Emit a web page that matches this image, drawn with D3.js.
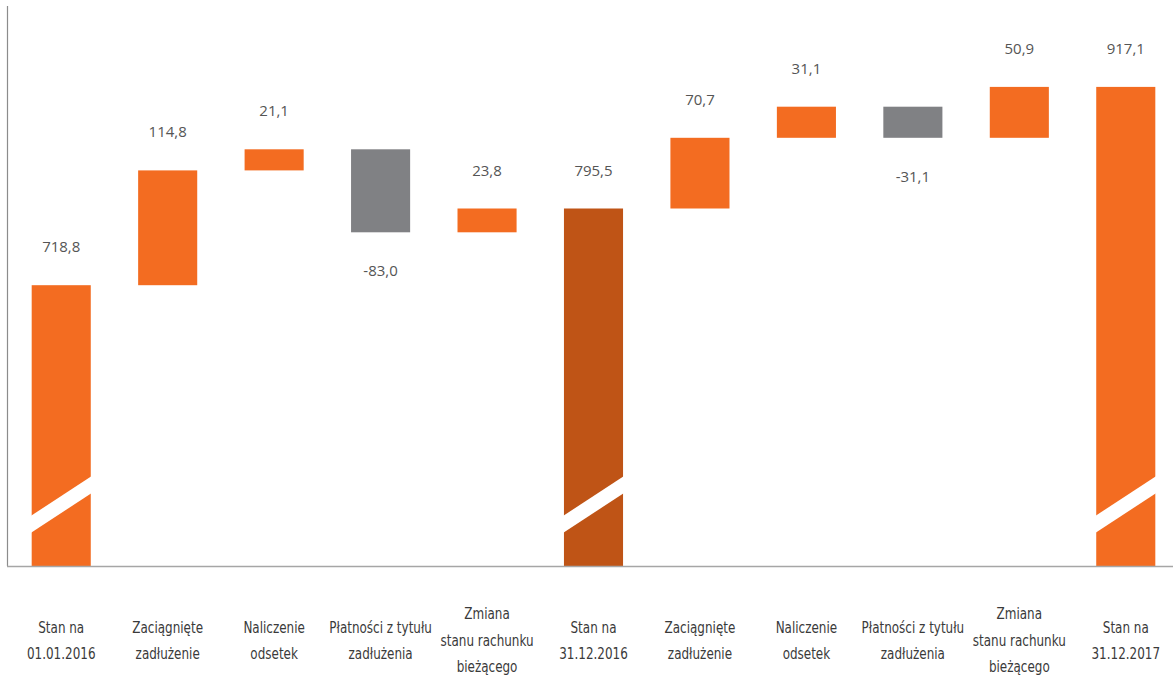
<!DOCTYPE html>
<html>
<head>
<meta charset="utf-8">
<script src="https://cdn.jsdelivr.net/npm/d3@7"></script>
<style>
  html, body { margin: 0; padding: 0; background: #fff; }
</style>
</head>
<body>
<div class="chart"></div>
<script>
// dane wykresu kaskadowego (mln zł)
const categories = [
  ['Stan na', '01.01.2016'],
  ['Zaciągnięte', 'zadłużenie'],
  ['Naliczenie', 'odsetek'],
  ['Płatności z tytułu', 'zadłużenia'],
  ['Zmiana', 'stanu rachunku', 'bieżącego'],
  ['Stan na', '31.12.2016'],
  ['Zaciągnięte', 'zadłużenie'],
  ['Naliczenie', 'odsetek'],
  ['Płatności z tytułu', 'zadłużenia'],
  ['Zmiana', 'stanu rachunku', 'bieżącego'],
  ['Stan na', '31.12.2017']
];
const values = [718.8, 114.8, 21.1, -83.0, 23.8, 795.5, 70.7, 31.1, -31.1, 50.9, 917.1];
const kinds  = ['total', 'delta', 'delta', 'delta', 'delta', 'mid', 'delta', 'delta', 'delta', 'delta', 'total'];
const valueLabels = ['718,8', '114,8', '21,1', '-83,0', '23,8', '795,5', '70,7', '31,1', '-31,1', '50,9', '917,1'];

// oś przerwana - dolna granica skali
const yMin = 438, yMax = 998;

const W = 1173, H = 677;
const baseY = 566;

const svg = d3.select('.chart').append('svg')
  .attr('width', W)
  .attr('height', H);

const x = d3.scaleBand()
  .domain(d3.range(values.length))
  .range([8, 1179])
  .paddingInner(0.445)
  .paddingOuter(0.2225);

const y = d3.scaleLinear()
  .domain([yMin, yMax])
  .range([baseY, 6]);

// liczenie początku i końca każdego słupka
let run = 0;
const bars = values.map((v, i) => {
  let lo, hi;
  if (kinds[i] !== 'delta') {
    lo = yMin; hi = v; run = v;
  } else {
    const start = run;
    run = run + v;
    lo = Math.min(start, run); hi = Math.max(start, run);
  }
  return {i, v, lo, hi, kind: kinds[i]};
});

const color = d => d.kind === 'mid' ? '#bf5416' : (d.v < 0 ? '#808184' : '#f36c21');

// osie
svg.append('line')
  .attr('x1', 7.5).attr('x2', 7.5)
  .attr('y1', y(yMax)).attr('y2', baseY)
  .attr('stroke', '#8c8c8c').attr('stroke-width', 1.2);

svg.selectAll('rect.bar')
  .data(bars)
  .enter().append('rect')
  .attr('class', 'bar')
  .attr('x', d => x(d.i))
  .attr('width', x.bandwidth())
  .attr('y', d => y(d.hi))
  .attr('height', d => y(d.lo) - y(d.hi))
  .attr('fill', color);

// biały pasek przerwy osi na słupkach sumarycznych
svg.selectAll('polygon.brk')
  .data(bars.filter(d => d.kind !== 'delta'))
  .enter().append('polygon')
  .attr('class', 'brk')
  .attr('fill', '#fff')
  .attr('points', d => {
    const x0 = x(d.i) - 1, x1 = x(d.i) + x.bandwidth() + 1;
    return [[x0, baseY - 50], [x1, baseY - 90], [x1, baseY - 73], [x0, baseY - 33]]
      .map(p => p.join(',')).join(' ');
  });

svg.append('line')
  .attr('x1', 7).attr('x2', W)
  .attr('y1', baseY + 0.5).attr('y2', baseY + 0.5)
  .attr('stroke', '#a6a6a6').attr('stroke-width', 1.5);

// etykiety wartości
svg.selectAll('text.val')
  .data(bars)
  .enter().append('text')
  .attr('class', 'val')
  .text(d => valueLabels[d.i])
  .attr('x', d => x(d.i) + x.bandwidth() / 2)
  .attr('y', d => d.v < 0 ? y(d.lo) + 38 : y(d.hi) - 39)
  .attr('text-anchor', 'middle')
  .attr('dominant-baseline', 'central')
  .attr('font-family', "'Open Sans', 'Noto Sans', sans-serif")
  .attr('font-size', 15)
  .attr('fill', '#555');

// etykiety kategorii (zwężone, jak w oryginale)
const cat = svg.selectAll('text.cat')
  .data(categories)
  .enter().append('text')
  .attr('class', 'cat')
  .attr('transform', (d, i) => `translate(${x(i) + x.bandwidth() / 2},0) scale(0.86,1)`)
  .attr('text-anchor', 'middle')
  .attr('font-family', "'Liberation Sans Narrow', 'DejaVu Sans Condensed', sans-serif")
  .attr('font-size', 15.5)
  .attr('fill', '#3a3a3a');

cat.each(function(lines) {
  const t = d3.select(this);
  const lh = 26.5;
  const top = 640.5 - (lines.length - 1) * lh / 2;
  lines.forEach((ln, k) => {
    t.append('tspan')
      .attr('x', 0)
      .attr('y', top + k * lh)
      .attr('dominant-baseline', 'central')
      .text(ln);
  });
});
</script>
</body>
</html>
